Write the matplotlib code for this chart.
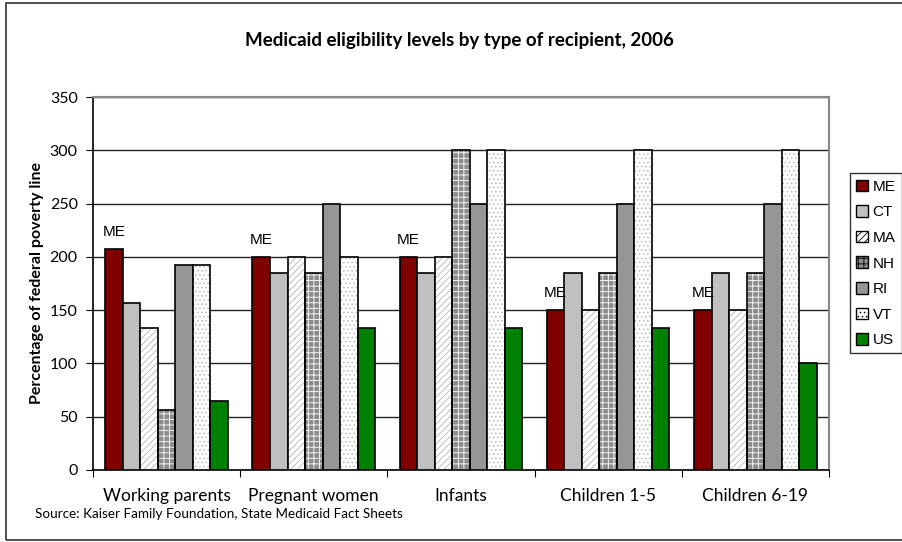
import matplotlib.pyplot as plt
import matplotlib.patches as mpatches
import numpy as np

categories = ['Working parents', 'Pregnant women', 'Infants', 'Children 1-5', 'Children 6-19']
states = ['ME', 'CT', 'MA', 'NH', 'RI', 'VT', 'US']
me = [207, 200, 200, 150, 150]
ct = [157, 185, 185, 185, 185]
ma = [133, 200, 200, 150, 150]
nh = [56, 185, 300, 185, 185]
ri = [192, 250, 250, 250, 250]
vt = [192, 200, 300, 300, 300]
us = [65, 133, 133, 133, 100]
yticks = [0, 50, 100, 150, 200, 250, 300, 350]

series = [me, ct, ma, nh, ri, vt, us]
# fill colour, hatch, hatch colour
styles = [
    ('#800000', None, None),
    ('#c0c0c0', None, None),
    ('white', '/////', '#b4b4b4'),
    ('#8c8c8c', '+++', 'white'),
    ('#969696', None, None),
    ('white', '....', '#b8b8b8'),
    ('#008000', None, None),
]

plt.rcParams['font.family'] = ['Lato', 'DejaVu Sans']
plt.rcParams['hatch.linewidth'] = 0.6

fig = plt.figure(figsize=(9.03, 5.42), dpi=100)
ax = fig.add_axes([0.103, 0.133, 0.815, 0.688])

x = np.arange(len(categories))
w = 0.119
for i, (vals, (fc, hatch, hc)) in enumerate(zip(series, styles)):
    pos = x + (i - 3) * w
    if hatch:
        ax.bar(pos, vals, w, color=fc, edgecolor=hc, hatch=hatch, linewidth=0, zorder=3)
        ax.bar(pos, vals, w, fill=False, edgecolor='black', linewidth=1.2, zorder=4)
    else:
        ax.bar(pos, vals, w, color=fc, edgecolor='black', linewidth=1.2, zorder=3)

# ME labels above the Maine bars
for xi, v in zip(x, me):
    ax.text(xi - 3 * w, v + 16, 'ME', ha='center', va='center',
            fontsize=11, family='Liberation Sans', zorder=5)

ax.set_xlim(-0.5, 4.5)
ax.set_ylim(0, 350)
ax.set_yticks(yticks)
ax.set_yticklabels([str(t) for t in yticks], fontsize=11.5)
ax.yaxis.grid(True, color='#222222', linewidth=1, zorder=0)
ax.set_xticks(np.arange(-0.5, 5.0, 1.0))
ax.set_xticklabels([])
ax.set_xticks(x, minor=True)
ax.set_xticklabels(categories, minor=True, fontsize=12.5)
ax.tick_params(axis='x', which='minor', length=0, pad=13)
ax.tick_params(axis='x', which='major', length=5, direction='out', color='black')
ax.tick_params(axis='y', length=5, direction='out', pad=6)

for s in ['top', 'right']:
    ax.spines[s].set_color('#888888')
    ax.spines[s].set_linewidth(1.5)
for s in ['left', 'bottom']:
    ax.spines[s].set_color('black')
    ax.spines[s].set_linewidth(1.2)

ax.set_ylabel('Percentage of federal poverty line', fontsize=11.5, fontweight='bold', labelpad=4)

fig.text(0.509, 0.925, 'Medicaid eligibility levels by type of recipient, 2006',
         ha='center', va='center', fontsize=13.5, fontweight='bold')
fig.text(0.039, 0.051, 'Source: Kaiser Family Foundation, State Medicaid Fact Sheets',
         ha='left', va='center', fontsize=9.7)

# legend
handles = []
for name, (fc, hatch, hc) in zip(states, styles):
    handles.append(mpatches.Patch(facecolor=fc, edgecolor='black', hatch=hatch, linewidth=1))
leg = fig.legend(handles, states, loc='upper left', bbox_to_anchor=(0.941, 0.68),
                 prop={'family': 'Liberation Sans', 'size': 11}, frameon=True, fancybox=False,
                 handlelength=0.8, handleheight=0.8, handletextpad=0.3, labelspacing=0.75,
                 borderpad=0.4, borderaxespad=0)
leg.get_frame().set_edgecolor('black')
leg.get_frame().set_linewidth(1)

# outer chart border
fig.patches.append(mpatches.Rectangle((0.007, 0.004), 1.2, 0.99, transform=fig.transFigure,
                                      fill=False, edgecolor='#333333', linewidth=1.2))

fig.savefig('out.png', dpi=100)
